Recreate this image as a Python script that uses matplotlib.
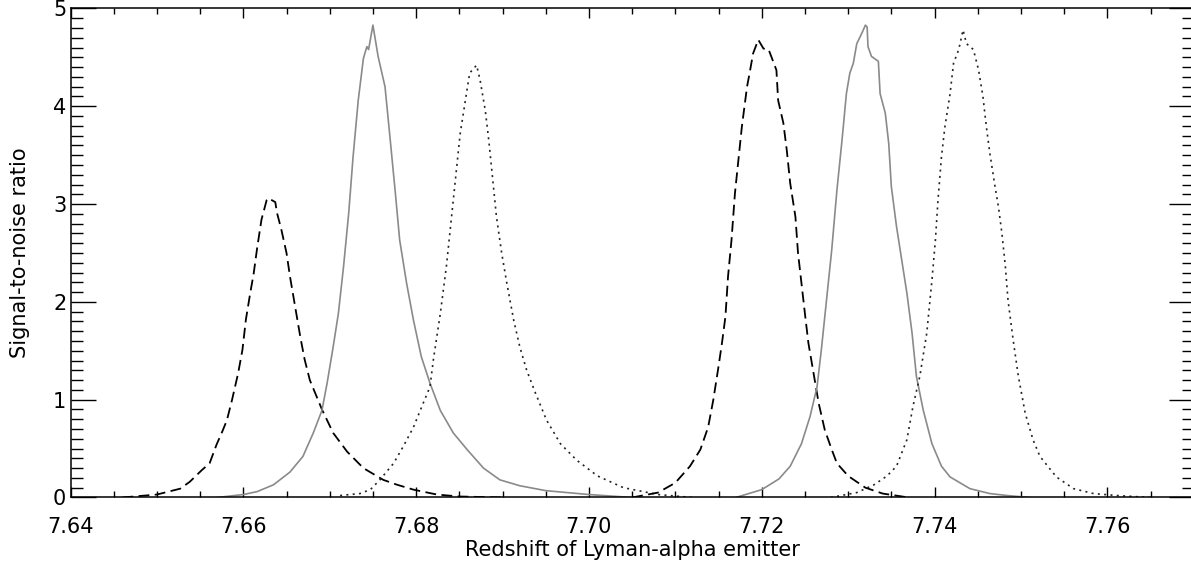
import numpy as np
import matplotlib
matplotlib.use("Agg")
import matplotlib.pyplot as plt
from matplotlib.ticker import MultipleLocator, FormatStrFormatter

# Signal-to-noise curves (redshift, S/N)
z_dash1 = [7.6460, 7.6500, 7.6527, 7.6538, 7.6552, 7.6561, 7.6569, 7.6575, 7.6581, 7.6587,
           7.6594, 7.6599, 7.6603, 7.6608, 7.6612, 7.6616, 7.6621, 7.6627, 7.6629, 7.6637,
           7.6639, 7.6644, 7.6650, 7.6654, 7.6660, 7.6666, 7.6671, 7.6677, 7.6684, 7.6691,
           7.6704, 7.6720, 7.6739, 7.6762, 7.6778, 7.6797, 7.6824, 7.6850, 7.6900]
sn_dash1 = [0.00, 0.03, 0.09, 0.16, 0.28, 0.35, 0.54, 0.66, 0.79, 1.00,
            1.27, 1.51, 1.82, 2.09, 2.29, 2.55, 2.84, 3.04, 3.06, 3.02,
            2.91, 2.74, 2.50, 2.26, 1.95, 1.64, 1.41, 1.20, 1.05, 0.90,
            0.66, 0.47, 0.30, 0.18, 0.13, 0.08, 0.03, 0.01, 0.00]

z_solid1 = [7.6570, 7.6600, 7.6616, 7.6635, 7.6654, 7.6669, 7.6681, 7.6691, 7.6697, 7.6704,
            7.6710, 7.6716, 7.6722, 7.6727, 7.6733, 7.6739, 7.6743, 7.6745, 7.6750, 7.6756,
            7.6764, 7.6770, 7.6776, 7.6781, 7.6789, 7.6797, 7.6806, 7.6816, 7.6828, 7.6843,
            7.6859, 7.6878, 7.6897, 7.6920, 7.6950, 7.7000, 7.7050]
sn_solid1 = [0.00, 0.03, 0.06, 0.13, 0.26, 0.42, 0.66, 0.89, 1.17, 1.54,
             1.88, 2.36, 2.91, 3.48, 4.06, 4.49, 4.61, 4.58, 4.83, 4.51,
             4.20, 3.66, 3.11, 2.63, 2.19, 1.81, 1.44, 1.17, 0.89, 0.66,
             0.49, 0.30, 0.18, 0.12, 0.07, 0.03, 0.00]

z_dot1 = [7.6712, 7.6735, 7.6747, 7.6758, 7.6774, 7.6785, 7.6797, 7.6808, 7.6816, 7.6820,
          7.6828, 7.6835, 7.6841, 7.6847, 7.6851, 7.6857, 7.6862, 7.6870, 7.6874, 7.6880,
          7.6884, 7.6888, 7.6893, 7.6899, 7.6905, 7.6913, 7.6920, 7.6928, 7.6938, 7.6951,
          7.6967, 7.6986, 7.7010, 7.7040, 7.7080, 7.7120]
sn_dot1 = [0.02, 0.04, 0.08, 0.18, 0.35, 0.52, 0.72, 0.96, 1.13, 1.41,
           1.88, 2.36, 2.87, 3.38, 3.72, 4.06, 4.34, 4.42, 4.27, 3.96,
           3.66, 3.31, 2.87, 2.50, 2.19, 1.81, 1.54, 1.30, 1.07, 0.79,
           0.55, 0.38, 0.22, 0.10, 0.03, 0.00]

z_dash2 = [7.7050, 7.7080, 7.7100, 7.7117, 7.7129, 7.7138, 7.7144, 7.7150, 7.7154, 7.7158,
           7.7161, 7.7165, 7.7169, 7.7173, 7.7177, 7.7183, 7.7186, 7.7190, 7.7196, 7.7202,
           7.7208, 7.7217, 7.7219, 7.7225, 7.7229, 7.7233, 7.7239, 7.7242, 7.7246, 7.7250,
           7.7254, 7.7260, 7.7266, 7.7273, 7.7281, 7.7287, 7.7300, 7.7320, 7.7340, 7.7370]
sn_dash2 = [0.00, 0.05, 0.15, 0.32, 0.49, 0.72, 1.00, 1.34, 1.58, 1.85,
            2.26, 2.63, 3.11, 3.45, 3.79, 4.20, 4.34, 4.54, 4.68, 4.59,
            4.58, 4.37, 4.06, 3.83, 3.55, 3.21, 2.87, 2.50, 2.19, 1.88,
            1.58, 1.27, 0.96, 0.69, 0.49, 0.35, 0.22, 0.10, 0.04, 0.00]

z_solid2 = [7.7170, 7.7200, 7.7220, 7.7233, 7.7246, 7.7256, 7.7264, 7.7269, 7.7275, 7.7281,
            7.7287, 7.7293, 7.7298, 7.7302, 7.7306, 7.7310, 7.7316, 7.7320, 7.7322, 7.7323,
            7.7327, 7.7335, 7.7337, 7.7343, 7.7347, 7.7350, 7.7356, 7.7362, 7.7368, 7.7374,
            7.7379, 7.7387, 7.7397, 7.7408, 7.7418, 7.7441, 7.7464, 7.7484, 7.7510]
sn_solid2 = [0.00, 0.08, 0.19, 0.32, 0.55, 0.83, 1.13, 1.51, 2.02, 2.53,
             3.14, 3.66, 4.13, 4.34, 4.44, 4.64, 4.75, 4.83, 4.81, 4.61,
             4.51, 4.46, 4.13, 3.93, 3.62, 3.18, 2.77, 2.43, 2.09, 1.68,
             1.24, 0.89, 0.55, 0.32, 0.21, 0.09, 0.04, 0.02, 0.00]

z_dot2 = [7.7280, 7.7310, 7.7330, 7.7345, 7.7356, 7.7368, 7.7375, 7.7383, 7.7391, 7.7397,
          7.7401, 7.7404, 7.7408, 7.7412, 7.7418, 7.7422, 7.7428, 7.7433, 7.7437, 7.7445,
          7.7451, 7.7456, 7.7460, 7.7464, 7.7470, 7.7474, 7.7478, 7.7482, 7.7485, 7.7491,
          7.7497, 7.7505, 7.7514, 7.7522, 7.7541, 7.7561, 7.7584, 7.7611, 7.7650]
sn_dot2 = [0.00, 0.05, 0.13, 0.22, 0.32, 0.59, 0.93, 1.24, 1.68, 2.22,
           2.63, 3.04, 3.48, 3.79, 4.13, 4.44, 4.58, 4.78, 4.64, 4.58,
           4.37, 4.10, 3.79, 3.52, 3.18, 2.97, 2.70, 2.36, 2.02, 1.61,
           1.24, 0.86, 0.59, 0.42, 0.21, 0.09, 0.04, 0.02, 0.00]

fig = plt.figure(figsize=(11.91, 5.69), dpi=100)
# axes run slightly past the right edge, as in the cropped original
ax = fig.add_axes([0.0592, 0.1257, 0.9431, 0.8594])

dash_kw = dict(color="black", lw=1.3, dashes=(6, 3))
dot_kw = dict(color="#222222", lw=1.2, dashes=(1.2, 2.6))
solid_kw = dict(color="#8a8a8a", lw=1.2)

ax.plot(z_dash1, sn_dash1, **dash_kw)
ax.plot(z_solid1, sn_solid1, **solid_kw)
ax.plot(z_dot1, sn_dot1, **dot_kw)
ax.plot(z_dash2, sn_dash2, **dash_kw)
ax.plot(z_solid2, sn_solid2, **solid_kw)
ax.plot(z_dot2, sn_dot2, **dot_kw)

ax.set_xlim(7.64, 7.77)
ax.set_ylim(0, 5)

ax.xaxis.set_major_locator(MultipleLocator(0.02))
ax.xaxis.set_minor_locator(MultipleLocator(0.005))
ax.xaxis.set_major_formatter(FormatStrFormatter("%.2f"))
ax.yaxis.set_major_locator(MultipleLocator(1))
ax.yaxis.set_minor_locator(MultipleLocator(0.1))

ax.tick_params(axis="x", which="both", direction="in", top=True, width=1.0,
               labelsize=15, pad=14, colors="black")
ax.tick_params(axis="x", which="major", length=7.5)
ax.tick_params(axis="x", which="minor", length=4)
ax.tick_params(axis="y", which="both", direction="in", right=True, width=1.0,
               labelsize=15, pad=3, colors="black")
ax.tick_params(axis="y", which="major", length=18)
ax.tick_params(axis="y", which="minor", length=8.5)

for sp in ax.spines.values():
    sp.set_linewidth(1.1)

ax.set_xlabel("Redshift of Lyman-alpha emitter", fontsize=15, va="center")
ax.xaxis.set_label_coords(0.5, -0.107)
ax.set_ylabel("Signal-to-noise ratio", fontsize=15, va="center")
ax.yaxis.set_label_coords(-0.045, 0.5)

fig.savefig("out.png", dpi=100)
